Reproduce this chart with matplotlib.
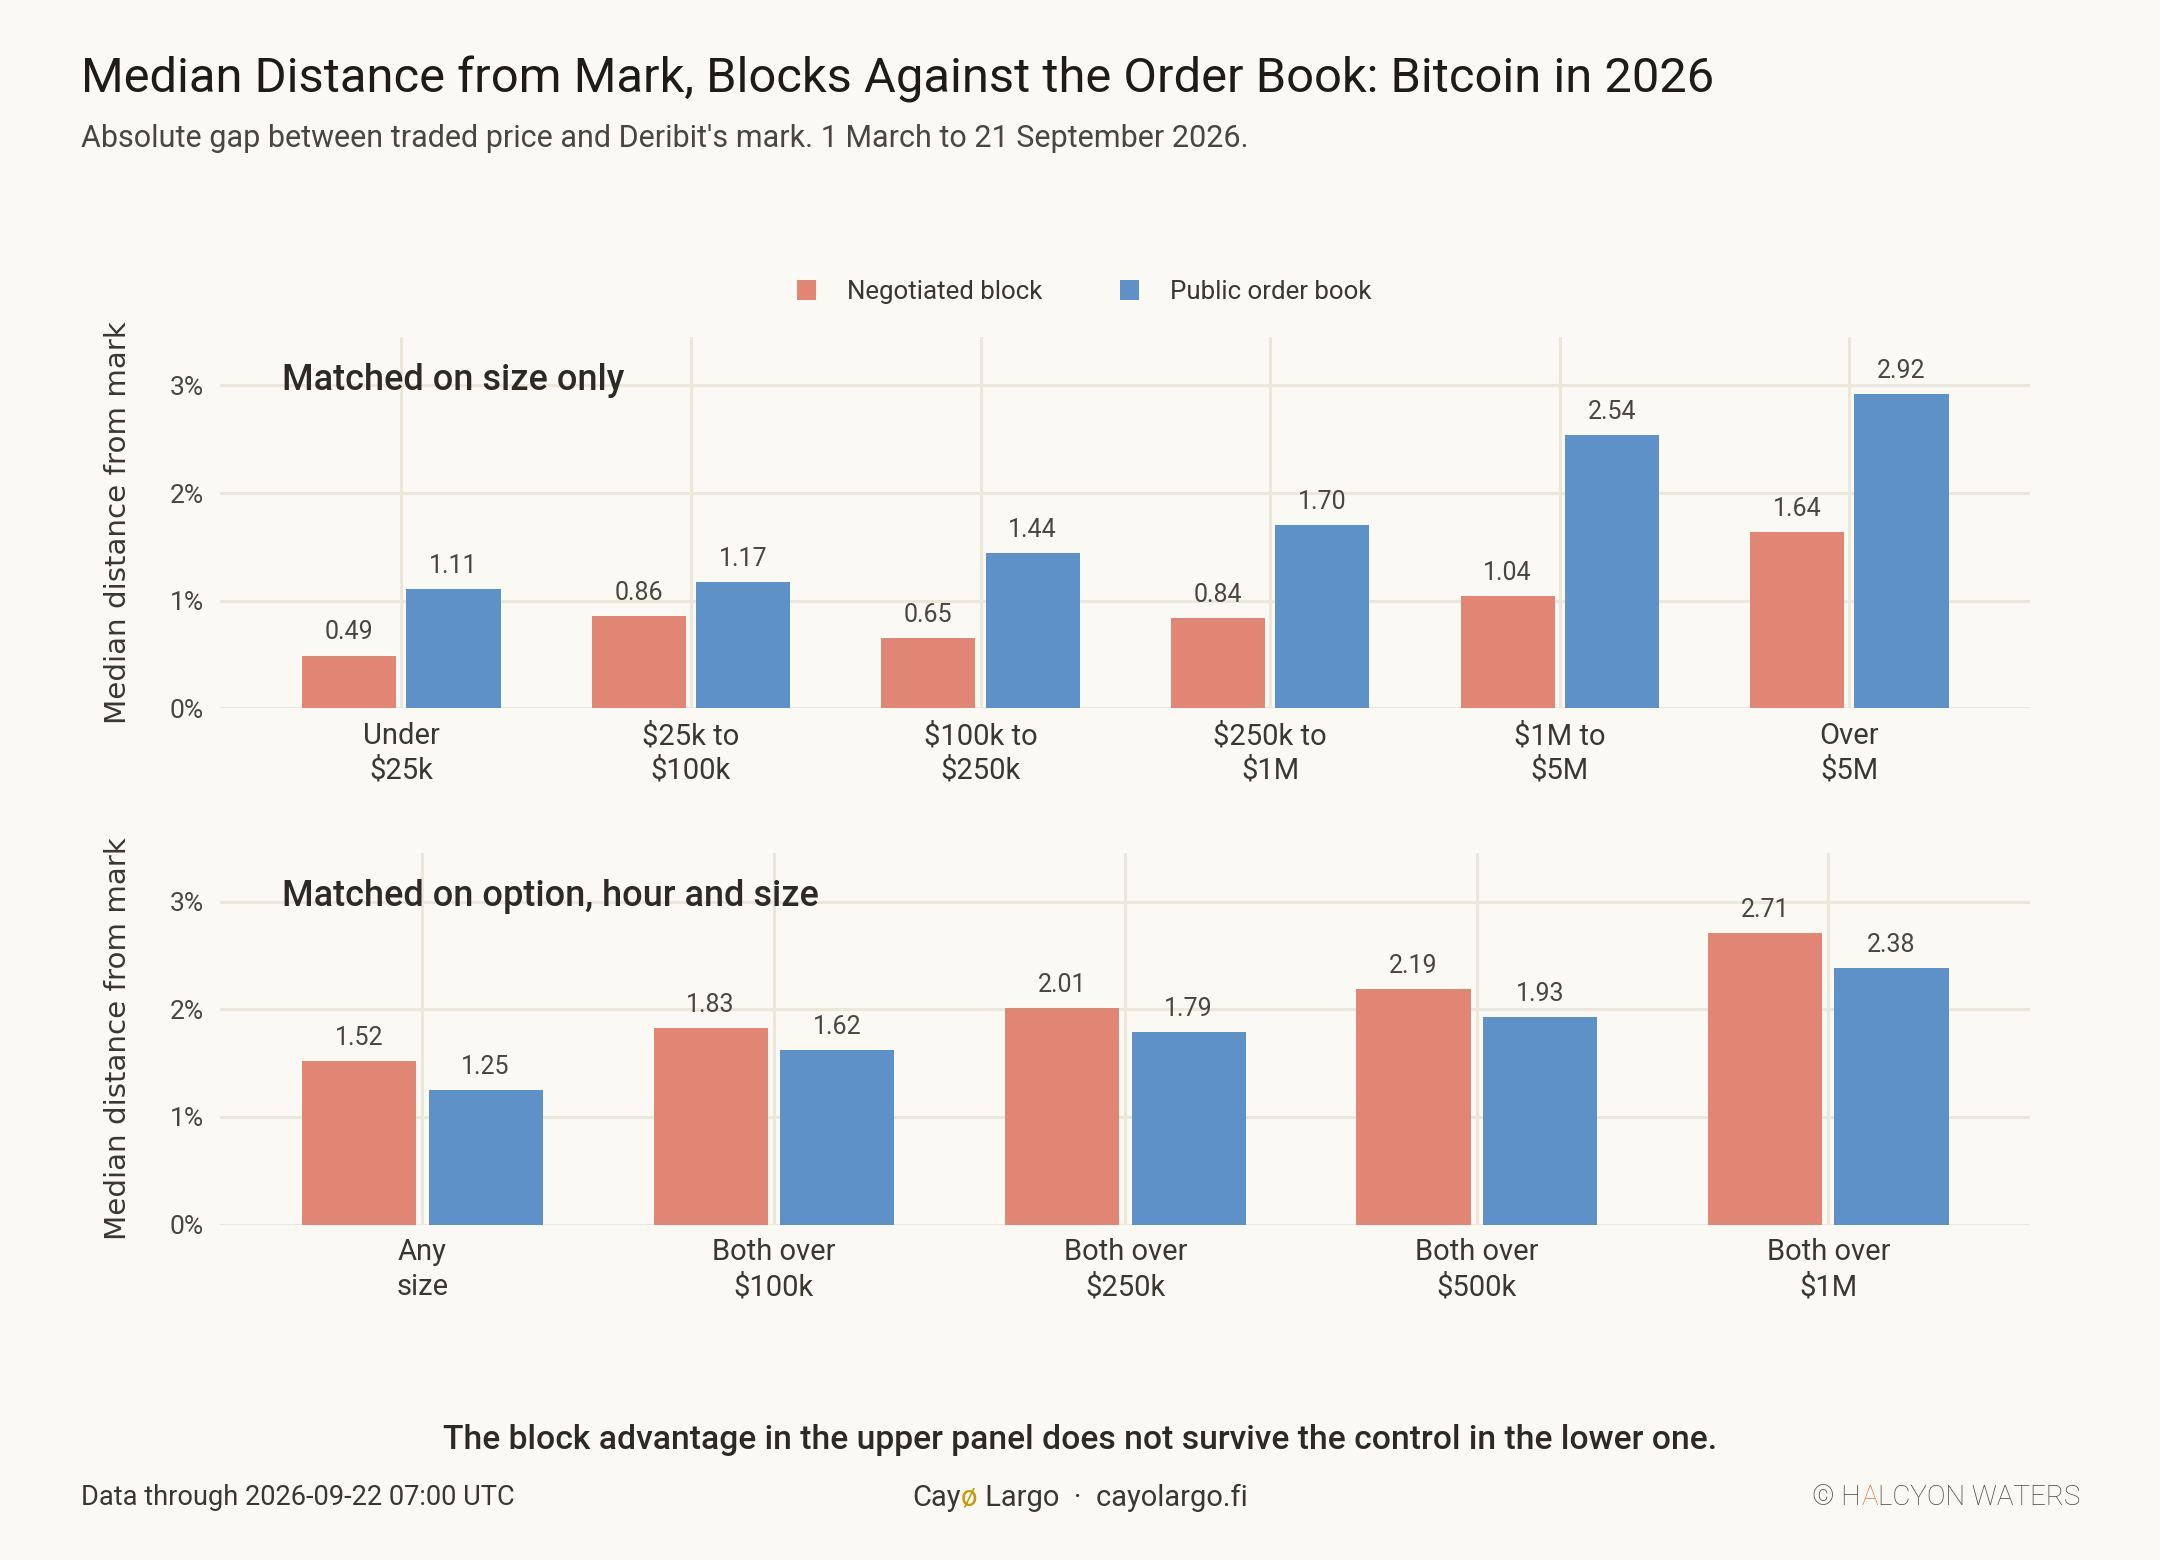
import matplotlib
matplotlib.use("Agg")
import matplotlib.pyplot as plt
import numpy as np

# data
cats_top = ['Under\n\\$25k', '\\$25k to\n\\$100k', '\\$100k to\n\\$250k',
            '\\$250k to\n\\$1M', '\\$1M to\n\\$5M', 'Over\n\\$5M']
block_top = [0.49, 0.86, 0.65, 0.84, 1.04, 1.64]
book_top = [1.11, 1.17, 1.44, 1.70, 2.54, 2.92]

cats_bot = ['Any\nsize', 'Both over\n\\$100k', 'Both over\n\\$250k',
            'Both over\n\\$500k', 'Both over\n\\$1M']
block_bot = [1.52, 1.83, 2.01, 2.19, 2.71]
book_bot = [1.25, 1.62, 1.79, 1.93, 2.38]

yticks = [0, 1, 2, 3]
ytick_labels = ['0%', '1%', '2%', '3%']
series_names = ['Negotiated block', 'Public order book']
panel_titles = ['Matched on size only', 'Matched on option, hour and size']

BG = '#fbf9f4'
RED = '#e18674'
BLUE = '#5e91c8'
GRID = '#ece7db'
DARK = '#1f1c16'
TXT = '#3b372f'

plt.rcParams['font.family'] = ['Roboto', 'DejaVu Sans']

fig = plt.figure(figsize=(10.8, 7.8), dpi=200, facecolor=BG)
ax1 = fig.add_axes([0.102, 0.546, 0.838, 0.238])
ax2 = fig.add_axes([0.102, 0.215, 0.838, 0.238])


def panel(ax, cats, a, b, title):
    x = np.arange(len(cats))
    w = 0.325
    off = 0.18
    ax.set_facecolor(BG)
    ra = ax.bar(x - off, a, w, color=RED, label=series_names[0], zorder=3)
    rb = ax.bar(x + off, b, w, color=BLUE, label=series_names[1], zorder=3)
    for rects, vals in ((ra, a), (rb, b)):
        for r, v in zip(rects, vals):
            ax.annotate('%.2f' % v, (r.get_x() + r.get_width() / 2, v),
                        xytext=(0, 4), textcoords='offset points',
                        ha='center', va='bottom', fontsize=9, color='#4a463e')
    pad = 0.625 if len(cats) == 6 else 0.575
    ax.set_xlim(-pad, len(cats) - 1 + pad)
    ax.set_ylim(0, 3.45)
    ax.set_xticks(x)
    ax.set_xticklabels(cats, fontsize=10.5, color=TXT, linespacing=1.3)
    ax.set_yticks(yticks)
    ax.set_yticklabels(ytick_labels, fontsize=9.5, color='#4a463e')
    ax.tick_params(length=0, pad=6)
    ax.tick_params(axis='x', pad=5)
    ax.grid(True, color=GRID, lw=1.1, zorder=0)
    for s in ax.spines.values():
        s.set_visible(False)
    ax.set_ylabel('Median distance from mark', family='DejaVu Sans',
                  fontsize=10.6, color=TXT)
    ax.yaxis.set_label_coords(-0.049, 0.5)
    ax.text(0.034, 0.884, title, transform=ax.transAxes, fontsize=13,
            fontweight='medium', color='#2e2a23', va='center', ha='left')
    return ra, rb


handles = panel(ax1, cats_top, block_top, book_top, panel_titles[0])
panel(ax2, cats_bot, block_bot, book_bot, panel_titles[1])

fig.legend(handles, series_names, loc='center', bbox_to_anchor=(0.502, 0.813),
           ncol=2, frameon=False, fontsize=9.3, handlelength=0.75,
           handleheight=0.8, handletextpad=1.2, columnspacing=3.0,
           labelcolor=TXT)

fig.text(0.0375, 0.941, 'Median Distance from Mark, Blocks Against the Order Book: Bitcoin in 2026',
         fontsize=17.6, color=DARK, va='baseline', ha='left')
fig.text(0.0375, 0.906, "Absolute gap between traded price and Deribit's mark. 1 March to 21 September 2026.",
         fontsize=11, color='#4a463e', va='baseline', ha='left')

fig.text(0.5, 0.077, 'The block advantage in the upper panel does not survive the control in the lower one.',
         fontsize=12.1, fontweight='medium', color='#2e2a23', ha='center', va='center')
fig.text(0.0375, 0.040, 'Data through 2026-09-22 07:00 UTC', fontsize=9.8,
         color=TXT, ha='left', va='center')

# footer pieces with coloured letters
fig.canvas.draw()
renderer = fig.canvas.get_renderer()


def pieces(x, y, parts, align, **kw):
    objs = [fig.text(0, y, s, color=c, va='center', ha='left', **kw) for s, c in parts]
    widths = [t.get_window_extent(renderer).width / fig.bbox.width for t in objs]
    total = sum(widths)
    if align == 'center':
        x = x - total / 2
    elif align == 'right':
        x = x - total
    for t, wd in zip(objs, widths):
        t.set_x(x)
        x += wd


pieces(0.5, 0.040, [('Cay', TXT), ('ø', '#c9960c'), (' Largo  ·  cayolargo.fi', TXT)],
       'center', fontsize=10.5)
pieces(0.963, 0.040, [('© H', '#4a463f'), ('A', '#e07b3c'), ('LCYON WATERS', '#4a463f')],
       'right', fontsize=10, fontweight='light')

fig.savefig('out.png', dpi=200, facecolor=BG)
